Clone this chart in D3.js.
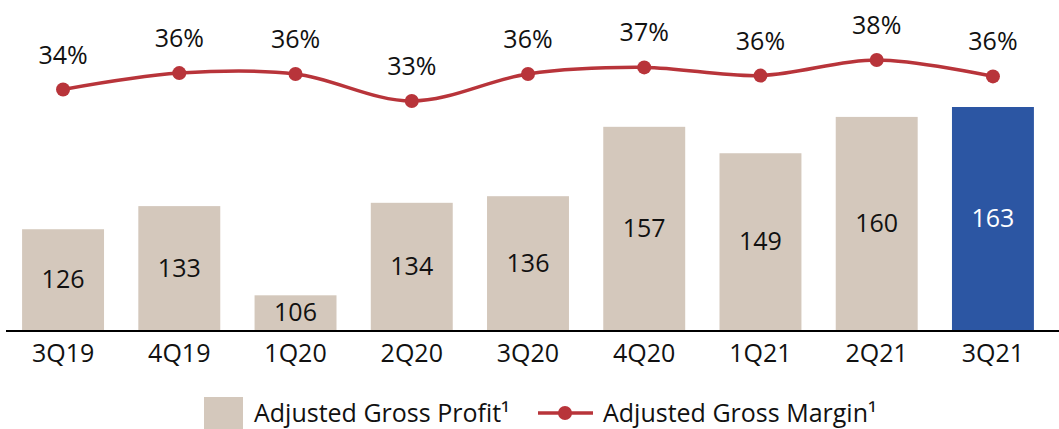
<!DOCTYPE html>
<html>
<head>
<meta charset="utf-8">
<script src="https://cdn.jsdelivr.net/npm/d3@7/dist/d3.min.js"></script>
<style>
  body { margin: 0; background: #fff; }
  svg text { font-family: "Open Sans", sans-serif; }
</style>
</head>
<body>
<div id="chart"></div>
<script>
var quarters = ["3Q19", "4Q19", "1Q20", "2Q20", "3Q20", "4Q20", "1Q21", "2Q21", "3Q21"];
var grossProfit = [126, 133, 106, 134, 136, 157, 149, 160, 163];
var grossMargin = [34.4, 36.4, 36.3, 33.0, 36.3, 37.1, 36.1, 38.0, 36.0];
var seriesNames = ["Adjusted Gross Profit\u00b9", "Adjusted Gross Margin\u00b9"];

var width = 1059, height = 429;
var barColor = "#d4c8bc", lastColor = "#2c56a3", lineColor = "#b8343a";
var fontSize = "25px";

var svg = d3.select("#chart").append("svg")
    .attr("width", width)
    .attr("height", height);

var x = d3.scaleBand()
    .domain(quarters)
    .range([5, 1051])
    .paddingInner(0.295)
    .paddingOuter(0.147);

var yBar = d3.scaleLinear().domain([95.5, 163]).range([330, 107]);
var yPct = d3.scaleLinear().domain([33, 38]).range([101, 60]);

// bars
svg.selectAll("rect.bar")
    .data(grossProfit)
    .enter()
    .append("rect")
    .attr("class", "bar")
    .attr("x", function(d, i) { return x(quarters[i]); })
    .attr("y", function(d) { return yBar(d); })
    .attr("width", x.bandwidth())
    .attr("height", function(d) { return yBar.range()[0] - yBar(d); })
    .attr("fill", function(d, i) { return i === quarters.length - 1 ? lastColor : barColor; });

svg.selectAll("text.val")
    .data(grossProfit)
    .enter()
    .append("text")
    .attr("class", "val")
    .attr("x", function(d, i) { return x(quarters[i]) + x.bandwidth() / 2; })
    .attr("y", function(d) { return (yBar(d) + yBar.range()[0]) / 2; })
    .attr("dy", "0.35em")
    .style("text-anchor", "middle")
    .style("font-size", fontSize)
    .attr("fill", function(d, i) { return i === quarters.length - 1 ? "#fff" : "#111"; })
    .text(function(d) { return d; });

// axis
var axis = svg.append("g")
    .attr("transform", "translate(0,331)")
    .call(d3.axisBottom(x).tickSize(0).tickPadding(13));
axis.select(".domain").remove();
axis.selectAll("text")
    .style("font-size", fontSize)
    .style("font-family", "'Open Sans', sans-serif")
    .attr("fill", "#111");
svg.append("line")
    .attr("x1", 6).attr("x2", width)
    .attr("y1", 331).attr("y2", 331)
    .attr("stroke", "#000")
    .attr("stroke-width", 2);

// margin line
var line = d3.line()
    .x(function(d, i) { return x(quarters[i]) + x.bandwidth() / 2; })
    .y(function(d) { return yPct(d); })
    .curve(d3.curveCardinal.tension(0));

svg.append("path")
    .datum(grossMargin)
    .attr("d", line)
    .attr("fill", "none")
    .attr("stroke", lineColor)
    .attr("stroke-width", 3.5);

svg.selectAll("circle.pt")
    .data(grossMargin)
    .enter()
    .append("circle")
    .attr("class", "pt")
    .attr("cx", function(d, i) { return x(quarters[i]) + x.bandwidth() / 2; })
    .attr("cy", function(d) { return yPct(d); })
    .attr("r", 7)
    .attr("fill", lineColor);

svg.selectAll("text.pct")
    .data(grossMargin)
    .enter()
    .append("text")
    .attr("class", "pct")
    .attr("x", function(d, i) { return x(quarters[i]) + x.bandwidth() / 2; })
    .attr("y", function(d) { return yPct(d) - 26; })
    .style("text-anchor", "middle")
    .style("font-size", fontSize)
    .attr("fill", "#111")
    .text(function(d) { return Math.round(d) + "%"; });

// legend
var leg = svg.append("g");
leg.append("rect")
    .attr("x", 204).attr("y", 397)
    .attr("width", 39).attr("height", 34)
    .attr("fill", barColor);
leg.append("text")
    .attr("x", 254).attr("y", 422)
    .style("font-size", fontSize)
    .attr("fill", "#111")
    .text(seriesNames[0]);
leg.append("line")
    .attr("x1", 538).attr("x2", 593)
    .attr("y1", 413).attr("y2", 413)
    .attr("stroke", lineColor)
    .attr("stroke-width", 3.5);
leg.append("circle")
    .attr("cx", 565).attr("cy", 413)
    .attr("r", 7)
    .attr("fill", lineColor);
leg.append("text")
    .attr("x", 603).attr("y", 422)
    .style("font-size", fontSize)
    .attr("fill", "#111")
    .text(seriesNames[1]);
</script>
</body>
</html>
